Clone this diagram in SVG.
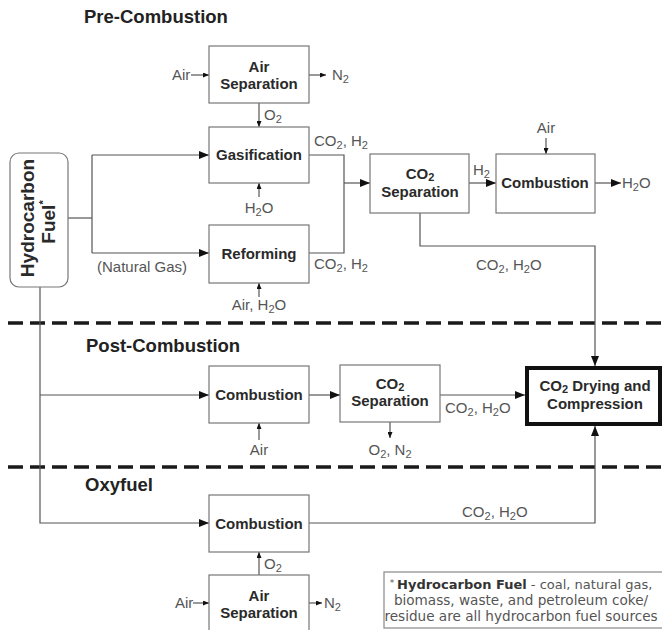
<svg xmlns="http://www.w3.org/2000/svg" width="662" height="630" viewBox="0 0 662 630">
<style>
.box{fill:#fff;stroke:#777;stroke-width:1.2}
.lbl{font-family:"Liberation Sans",Arial,sans-serif;font-weight:bold;font-size:15px;fill:#2a2a2a;text-anchor:middle}
.t{font-family:"Liberation Sans",Arial,sans-serif;font-size:15px;fill:#555}
.title{font-family:"Liberation Sans",Arial,sans-serif;font-weight:bold;font-size:18.5px;fill:#222}
.ln{fill:none;stroke:#555;stroke-width:1.2}
.big{marker-end:url(#ah)}
.sm{marker-end:url(#as)}
.dash{stroke:#1a1a1a;stroke-width:3.3;stroke-dasharray:15 7;fill:none}
.note{font-family:"DejaVu Sans",Verdana,sans-serif;font-size:13.6px;fill:#555;text-anchor:middle}
</style>
<defs>
<marker id="ah" viewBox="0 0 10 8" refX="10" refY="4" markerWidth="10" markerHeight="8" orient="auto" markerUnits="userSpaceOnUse"><path d="M0,0 L10,4 L0,8 z" fill="#111"/></marker>
<marker id="as" viewBox="0 0 6 5" refX="6" refY="2.5" markerWidth="6" markerHeight="5" orient="auto" markerUnits="userSpaceOnUse"><path d="M0,0 L6,2.5 L0,5 z" fill="#111"/></marker>
</defs>
<rect width="662" height="630" fill="#fff"/>

<text class="title" x="84" y="23">Pre-Combustion</text>
<text class="title" x="86" y="352">Post-Combustion</text>
<text class="title" x="85" y="491">Oxyfuel</text>

<path class="dash" d="M8,323 H662"/>
<path class="dash" d="M8,467 H662"/>

<g id="connectors">
<path class="ln sm" d="M191,75 H209"/>
<path class="ln sm" d="M309,75 H326"/>
<path class="ln sm" d="M259,103 V127"/>
<path class="ln sm" d="M259,197 V183"/>
<path class="ln sm" d="M259,297 V283"/>
<path class="ln" d="M68,218 H92"/>
<path class="ln" d="M92,155 V253"/>
<path class="ln big" d="M92,155 H209"/>
<path class="ln big" d="M92,253 H209"/>
<path class="ln big" d="M40,287 V523 H209"/>
<path class="ln big" d="M40,395 H209"/>
<path class="ln" d="M309,155 H344 V253 H309"/>
<path class="ln big" d="M344,183 H370"/>
<path class="ln big" d="M469,183 H496"/>
<path class="ln sm" d="M546,138 V154"/>
<path class="ln big" d="M595,183 H621"/>
<path class="ln big" d="M420,213 V246 H595 V366"/>
<path class="ln big" d="M309,395 H340"/>
<path class="ln sm" d="M259,440 V423"/>
<path class="ln sm" d="M390,422 V438"/>
<path class="ln big" d="M440,395 H525"/>
<path class="ln big" d="M309,523 H595 V426"/>
<path class="ln sm" d="M259,575 V552"/>
<path class="ln sm" d="M193,603 H209"/>
<path class="ln sm" d="M309,603 H322"/>
</g>

<g id="labels">
<text class="t" x="172" y="80">Air</text>
<text class="t" x="332" y="80">N<tspan font-size="11" dy="3">2</tspan></text>
<text class="t" x="264" y="120">O<tspan font-size="11" dy="3">2</tspan></text>
<text class="t" x="314" y="146">CO<tspan font-size="11" dy="3">2</tspan><tspan dy="-3">, H</tspan><tspan font-size="11" dy="3">2</tspan></text>
<text class="t" x="259" y="213" text-anchor="middle">H<tspan font-size="11" dy="3">2</tspan><tspan dy="-3">O</tspan></text>
<text class="t" x="97" y="272">(Natural Gas)</text>
<text class="t" x="314" y="269">CO<tspan font-size="11" dy="3">2</tspan><tspan dy="-3">, H</tspan><tspan font-size="11" dy="3">2</tspan></text>
<text class="t" x="259" y="310" text-anchor="middle">Air, H<tspan font-size="11" dy="3">2</tspan><tspan dy="-3">O</tspan></text>
<text class="t" x="473" y="175">H<tspan font-size="11" dy="3">2</tspan></text>
<text class="t" x="546" y="133" text-anchor="middle">Air</text>
<text class="t" x="622" y="188">H<tspan font-size="11" dy="3">2</tspan><tspan dy="-3">O</tspan></text>
<text class="t" x="476" y="270">CO<tspan font-size="11" dy="3">2</tspan><tspan dy="-3">, H</tspan><tspan font-size="11" dy="3">2</tspan><tspan dy="-3">O</tspan></text>
<text class="t" x="259" y="455" text-anchor="middle">Air</text>
<text class="t" x="390" y="455" text-anchor="middle">O<tspan font-size="11" dy="3">2</tspan><tspan dy="-3">, N</tspan><tspan font-size="11" dy="3">2</tspan></text>
<text class="t" x="445" y="413">CO<tspan font-size="11" dy="3">2</tspan><tspan dy="-3">, H</tspan><tspan font-size="11" dy="3">2</tspan><tspan dy="-3">O</tspan></text>
<text class="t" x="462" y="517">CO<tspan font-size="11" dy="3">2</tspan><tspan dy="-3">, H</tspan><tspan font-size="11" dy="3">2</tspan><tspan dy="-3">O</tspan></text>
<text class="t" x="264" y="569">O<tspan font-size="11" dy="3">2</tspan></text>
<text class="t" x="175" y="608">Air</text>
<text class="t" x="324" y="608">N<tspan font-size="11" dy="3">2</tspan></text>
</g>

<g id="fuel">
<rect x="10" y="153" width="58" height="134" rx="9" fill="#fff" stroke="#777" stroke-width="1.2"/>
<text class="lbl" transform="translate(34,218) rotate(-90)" style="font-size:19px">Hydrocarbon</text>
<text class="lbl" transform="translate(55,222) rotate(-90)" style="font-size:19px">Fuel<tspan font-size="11" dy="-8">*</tspan></text>
</g>

<g id="airsep1">
<rect class="box" x="209" y="46" width="100" height="57"/>
<text class="lbl" x="259" y="72">Air</text>
<text class="lbl" x="259" y="89">Separation</text>
</g>
<g id="gasification">
<rect class="box" x="209" y="127" width="100" height="56"/>
<text class="lbl" x="259" y="160">Gasification</text>
</g>
<g id="reforming">
<rect class="box" x="209" y="225" width="100" height="58"/>
<text class="lbl" x="259" y="259">Reforming</text>
</g>
<g id="co2sep1">
<rect class="box" x="370" y="154" width="99" height="59"/>
<text class="lbl" x="420" y="179">CO<tspan font-size="11" dy="2">2</tspan></text>
<text class="lbl" x="420" y="197">Separation</text>
</g>
<g id="combustion1">
<rect class="box" x="496" y="154" width="99" height="59"/>
<text class="lbl" x="545" y="188">Combustion</text>
</g>
<g id="combustion2">
<rect class="box" x="209" y="366" width="100" height="57"/>
<text class="lbl" x="259" y="400">Combustion</text>
</g>
<g id="co2sep2">
<rect class="box" x="340" y="365" width="100" height="57"/>
<text class="lbl" x="390" y="389">CO<tspan font-size="11" dy="2">2</tspan></text>
<text class="lbl" x="390" y="406">Separation</text>
</g>
<g id="drying">
<rect x="527" y="368" width="133" height="56" fill="#fff" stroke="#111" stroke-width="4"/>
<text class="lbl" x="595" y="391">CO<tspan font-size="11" dy="2">2</tspan><tspan dy="-2"> Drying and</tspan></text>
<text class="lbl" x="595" y="409">Compression</text>
</g>
<g id="combustion3">
<rect class="box" x="209" y="495" width="100" height="57"/>
<text class="lbl" x="259" y="529">Combustion</text>
</g>
<g id="airsep2">
<rect class="box" x="209" y="575" width="100" height="60"/>
<text class="lbl" x="259" y="601">Air</text>
<text class="lbl" x="259" y="618">Separation</text>
</g>
<g id="footnote">
<rect x="384" y="572" width="281" height="56" fill="#fff" stroke="#888" stroke-width="1.2"/>
<text class="note" x="521" y="589" style="font-size:13px"><tspan font-size="9" dy="-3">* </tspan><tspan font-weight="bold" fill="#333" dy="3">Hydrocarbon Fuel</tspan> - coal, natural gas,</text>
<text class="note" x="521" y="605">biomass, waste, and petroleum coke/</text>
<text class="note" x="521" y="621">residue are all hydrocarbon fuel sources</text>
</g>
</svg>
